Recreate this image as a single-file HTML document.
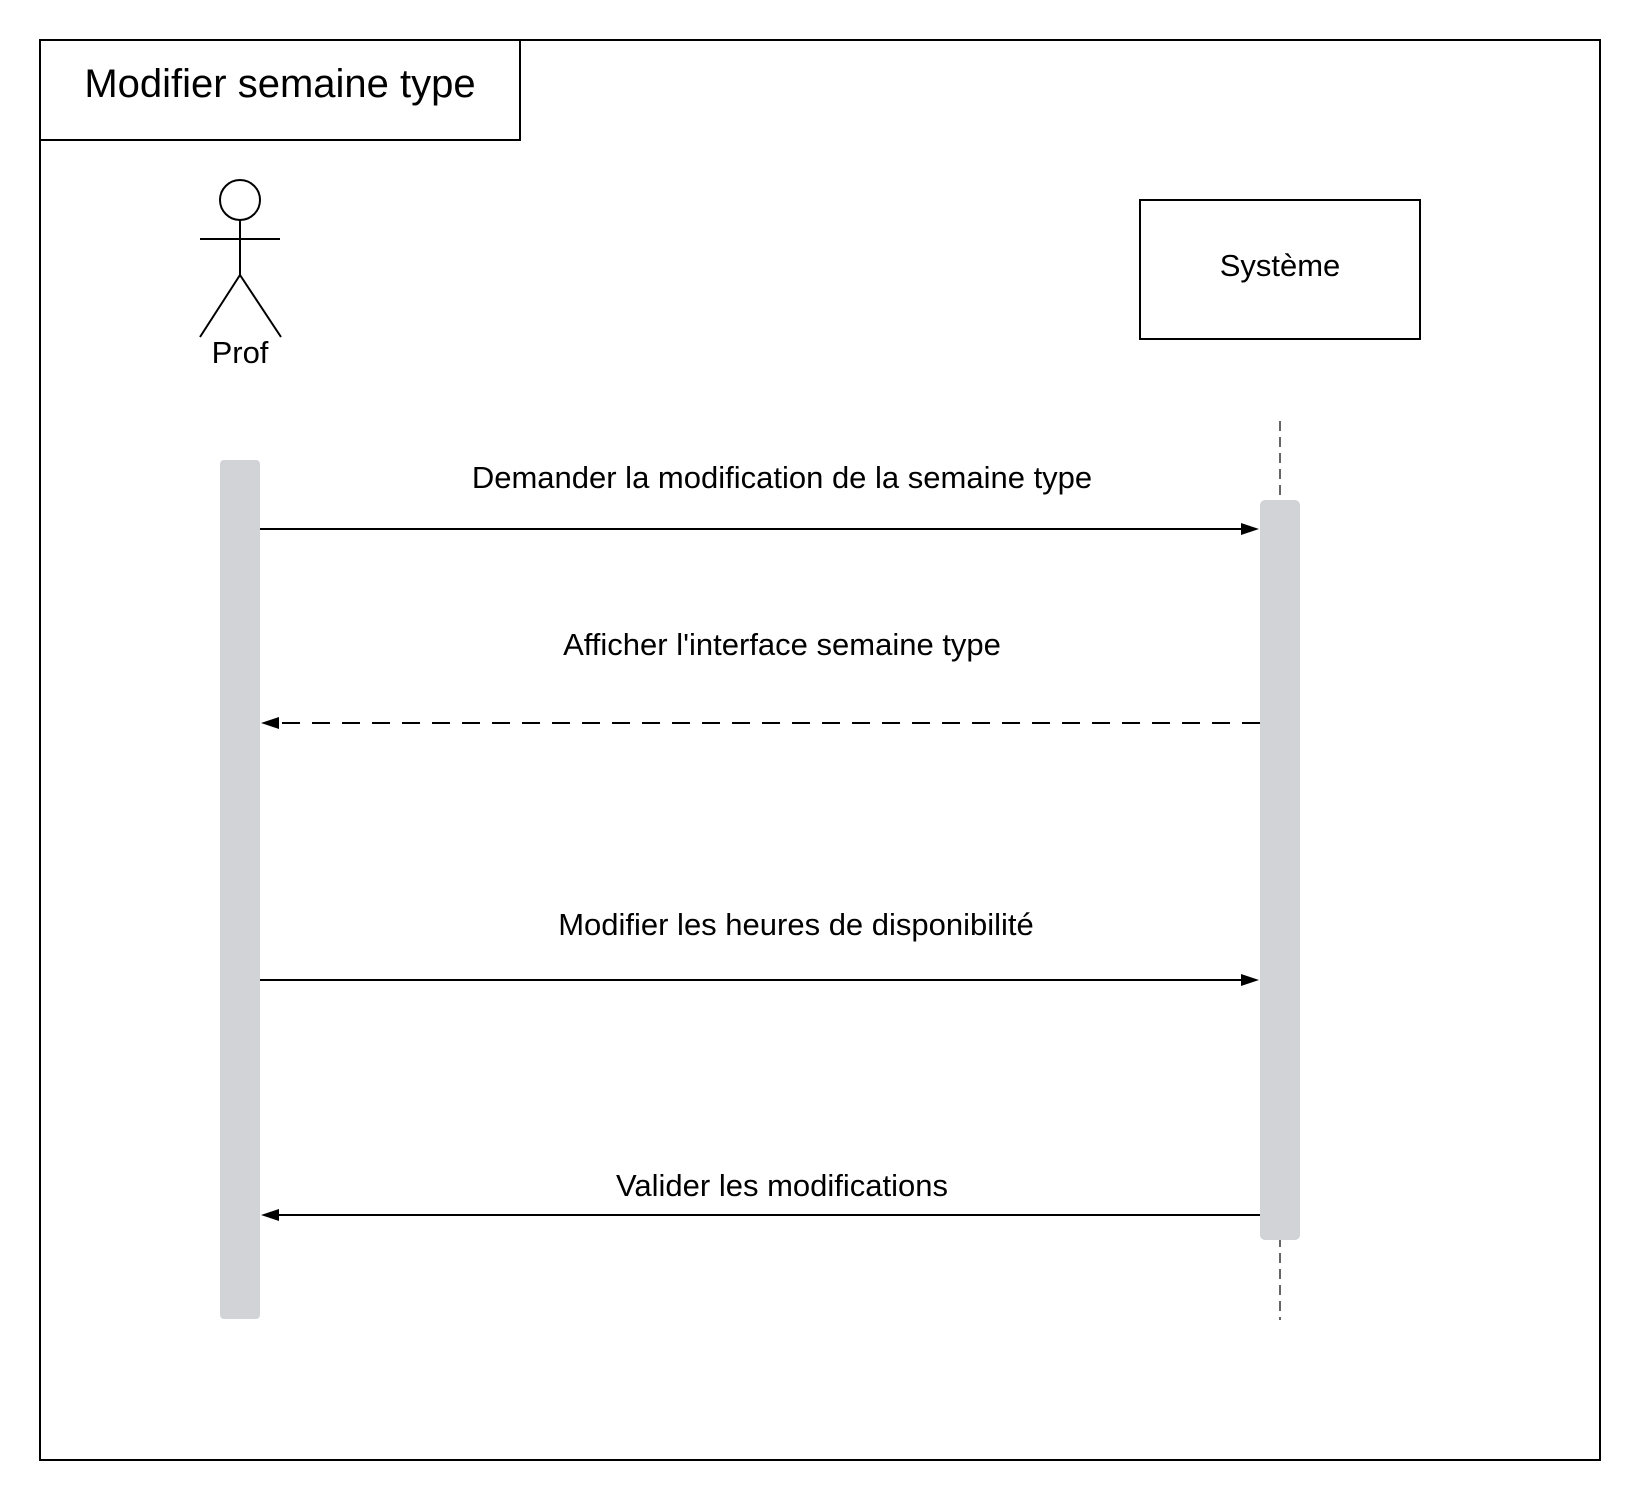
<!DOCTYPE html>
<html><head><meta charset="utf-8"><style>
html,body{margin:0;padding:0;background:#fff}
svg{display:block}
text{font-family:"Liberation Sans",Arial,sans-serif;fill:#000}
</style></head><body>
<svg width="1640" height="1500" viewBox="0 0 1640 1500" xmlns="http://www.w3.org/2000/svg">
<rect x="0" y="0" width="1640" height="1500" fill="#fff"/>
<rect x="40" y="40" width="1560" height="1420" fill="none" stroke="#000" stroke-width="2"/>
<rect x="40" y="40" width="480" height="100" fill="none" stroke="#000" stroke-width="2"/>
<text x="280" y="97" font-size="40" text-anchor="middle">Modifier semaine type</text>

<g stroke="#000" stroke-width="2" fill="none">
<circle cx="240" cy="200" r="20"/>
<line x1="240" y1="220" x2="240" y2="275"/>
<line x1="200" y1="239" x2="280" y2="239"/>
<line x1="240" y1="275" x2="200" y2="337"/>
<line x1="240" y1="275" x2="281" y2="337"/>
</g>
<text x="240" y="363" font-size="31" text-anchor="middle">Prof</text>

<rect x="1140" y="200" width="280" height="139" fill="none" stroke="#000" stroke-width="2"/>
<text x="1280" y="276" font-size="31" text-anchor="middle">Système</text>

<line x1="1280" y1="421" x2="1280" y2="1320" stroke="#333" stroke-width="1.5" stroke-dasharray="10,6"/>

<rect x="220" y="460" width="40" height="859" rx="4" fill="#d1d3d6"/>
<rect x="1260" y="500" width="40" height="740" rx="5" fill="#d1d3d6"/>

<text x="782" y="488" font-size="31" text-anchor="middle">Demander la modification de la semaine type</text>
<line x1="260" y1="529" x2="1242" y2="529" stroke="#000" stroke-width="2"/>
<polygon points="1259,529 1241,523 1241,535" fill="#000"/>

<text x="782" y="655" font-size="31" text-anchor="middle">Afficher l'interface semaine type</text>
<line x1="1260" y1="723" x2="278" y2="723" stroke="#000" stroke-width="2" stroke-dasharray="18,12"/>
<polygon points="261,723 279,717 279,729" fill="#000"/>

<text x="796" y="935" font-size="31" text-anchor="middle">Modifier les heures de disponibilité</text>
<line x1="260" y1="980" x2="1242" y2="980" stroke="#000" stroke-width="2"/>
<polygon points="1259,980 1241,974 1241,986" fill="#000"/>

<text x="782" y="1196" font-size="31" text-anchor="middle">Valider les modifications</text>
<line x1="1260" y1="1215" x2="278" y2="1215" stroke="#000" stroke-width="2"/>
<polygon points="261,1215 279,1209 279,1221" fill="#000"/>
</svg>
</body></html>
